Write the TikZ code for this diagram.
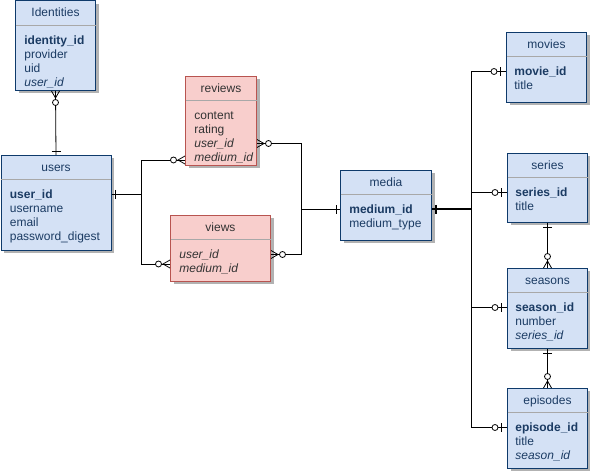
\documentclass[tikz,border=0pt]{standalone}
\usepackage{fontspec}
\setmainfont{Liberation Sans}
\usepackage{xcolor}
\usepackage{tikz}
\usetikzlibrary{positioning,shadows}
\definecolor{bluefill}{HTML}{D4E1F5}
\definecolor{blueline}{HTML}{0E3A6B}
\definecolor{bluetext}{HTML}{1B3B63}
\definecolor{redfill}{HTML}{F8CECC}
\definecolor{redline}{HTML}{B85450}
\definecolor{redtext}{HTML}{333333}
\definecolor{rulegray}{HTML}{A8A8A8}
\tikzset{every picture/.style={line width=0.8pt}}
\tikzset{
  zmany/.pic={\draw (0,-4) -- (7,0) -- (0,4); \draw[fill=white] (11.5,0) circle[radius=3pt];},
  one/.pic={\draw (4,-4.5) -- (4,4.5);},
  zone/.pic={\draw (6,-4.5) -- (6,4.5); \draw[fill=white] (12,0) circle[radius=3pt];}
}

\begin{document}
\begin{tikzpicture}[x=1pt,y=-1pt,
  ent/.style={draw=blueline,fill=bluefill,line width=1pt,anchor=north west,inner sep=0pt,
    drop shadow={shadow xshift=3pt,shadow yshift=-3pt,fill=black!30,opacity=1}},
  rel/.style={ent,draw=redline,fill=redfill},
  ttl/.style={font=\fontsize{12}{14}\selectfont,text=bluetext,inner sep=0pt,text height=8.6pt,text depth=0pt},
  rttl/.style={ttl,text=redtext},
  row/.style={ttl,anchor=west},
  rrow/.style={rttl,anchor=west},
  divider/.style={draw=rulegray,line width=1pt}]
\useasboundingbox (0,0) rectangle (590,473);
% tables
\node[ent,minimum width=80,minimum height=89.5] (ident) at (15,0.5) {};
\node[ttl] at ([shift={(0,12)}]ident.north) {Identities};
\draw[divider] ([shift={(0.5,25)}]ident.north west) -- ([shift={(-0.5,25)}]ident.north east);
\foreach \i/\t in {0/\textbf{identity\_id},1/provider,2/uid,3/\textit{user\_id}}
  \node[row] (ident\i) at ([shift={(9,39.5+14*\i)}]ident.north west) {\t};
%
\node[ent,minimum width=110,minimum height=95] (users) at (0.5,155) {};
\node[ttl] at ([shift={(0,12.5)}]users.north) {users};
\draw[divider] ([shift={(0.5,25)}]users.north west) -- ([shift={(-0.5,25)}]users.north east);
\foreach \i/\t in {0/\textbf{user\_id},1/username,2/email,3/password\_digest}
  \node[row] (users\i) at ([shift={(9,39.5+14*\i)}]users.north west) {\t};
%
\node[rel,minimum width=71,minimum height=89] (reviews) at (185,76) {};
\node[rttl] at ([shift={(0,12.5)}]reviews.north) {reviews};
\draw[divider] ([shift={(0.5,25)}]reviews.north west) -- ([shift={(-0.5,25)}]reviews.north east);
\foreach \i/\t in {0/content,1/rating,2/\textit{user\_id},3/\textit{medium\_id}}
  \node[rrow] (reviews\i) at ([shift={(9,39.5+14*\i)}]reviews.north west) {\t};
%
\node[rel,minimum width=100,minimum height=66] (views) at (170,215) {};
\node[rttl] at ([shift={(0,12.5)}]views.north) {views};
\draw[divider] ([shift={(0.5,25)}]views.north west) -- ([shift={(-0.5,25)}]views.north east);
\foreach \i/\t in {0/\textit{user\_id},1/\textit{medium\_id}}
  \node[rrow] (views\i) at ([shift={(9,39.5+14*\i)}]views.north west) {\t};
%
\node[ent,minimum width=91,minimum height=70] (media) at (340,170) {};
\node[ttl] at ([shift={(0,12.5)}]media.north) {media};
\draw[divider] ([shift={(0.5,25)}]media.north west) -- ([shift={(-0.5,25)}]media.north east);
\foreach \i/\t in {0/\textbf{medium\_id},1/medium\_type}
  \node[row] (media\i) at ([shift={(9,39.5+14*\i)}]media.north west) {\t};
%
\node[ent,minimum width=80,minimum height=70] (movies) at (506,32) {};
\node[ttl] at ([shift={(0,12.5)}]movies.north) {movies};
\draw[divider] ([shift={(0.5,25)}]movies.north west) -- ([shift={(-0.5,25)}]movies.north east);
\foreach \i/\t in {0/\textbf{movie\_id},1/title}
  \node[row] (movies\i) at ([shift={(8,39.5+14*\i)}]movies.north west) {\t};
%
\node[ent,minimum width=80,minimum height=69] (series) at (507,153) {};
\node[ttl] at ([shift={(0,12.5)}]series.north) {series};
\draw[divider] ([shift={(0.5,25)}]series.north west) -- ([shift={(-0.5,25)}]series.north east);
\foreach \i/\t in {0/\textbf{series\_id},1/title}
  \node[row] (series\i) at ([shift={(8,39.5+14*\i)}]series.north west) {\t};
%
\node[ent,minimum width=80,minimum height=80] (seasons) at (507,268) {};
\node[ttl] at ([shift={(0,12.5)}]seasons.north) {seasons};
\draw[divider] ([shift={(0.5,25)}]seasons.north west) -- ([shift={(-0.5,25)}]seasons.north east);
\foreach \i/\t in {0/\textbf{season\_id},1/number,2/\textit{series\_id}}
  \node[row] (seasons\i) at ([shift={(8,39.5+14*\i)}]seasons.north west) {\t};
%
\node[ent,minimum width=80,minimum height=80] (episodes) at (507,388) {};
\node[ttl] at ([shift={(0,12.5)}]episodes.north) {episodes};
\draw[divider] ([shift={(0.5,25)}]episodes.north west) -- ([shift={(-0.5,25)}]episodes.north east);
\foreach \i/\t in {0/\textbf{episode\_id},1/title,2/\textit{season\_id}}
  \node[row] (episodes\i) at ([shift={(8,39.5+14*\i)}]episodes.north west) {\t};
% relations
\draw (ident.south) -- (users.north);
\draw (users0 -| users.east) -- ++(30,0) coordinate (uj) |- ([shift={(0,84)}]reviews.north west);
\draw (uj) |- ([shift={(0,49)}]views.north west);
\draw (reviews2 -| reviews.east) -- ++(44,0) coordinate (mj) |- (media0 -| media.west);
\draw (views0 -| views.east) -| (mj);
\draw[line width=2pt] (media0 -| media.east) -- ++(39,0) coordinate (sj);
\draw (sj) |- (movies0 -| movies.west);
\draw (sj) |- (episodes0 -| episodes.west);
\draw (sj |- series0) -- (series0 -| series.west);
\draw (sj |- seasons0) -- (seasons0 -| seasons.west);
\draw (series.south) -- (seasons.north);
\draw (seasons.south) -- (episodes.north);
% ends
\pic[rotate=-90] at (ident.south) {zmany};
\pic[rotate=90] at (users.north) {one};
\pic at (users0 -| users.east) {one};
\pic[rotate=180] at ([shift={(0,84)}]reviews.north west) {zmany};
\pic[rotate=180] at ([shift={(0,49)}]views.north west) {zmany};
\pic at (reviews2 -| reviews.east) {zmany};
\pic at (views0 -| views.east) {zmany};
\pic[rotate=180] at (media0 -| media.west) {one};
\pic[line width=2pt] at (media0 -| media.east) {one};
\foreach \t in {movies,series,seasons,episodes}
  \pic[rotate=180] at (\t0 -| \t.west) {zone};
\pic[rotate=-90] at (series.south) {one};
\pic[rotate=90] at (seasons.north) {zmany};
\pic[rotate=-90] at (seasons.south) {one};
\pic[rotate=90] at (episodes.north) {zmany};
\end{tikzpicture}
\end{document}
